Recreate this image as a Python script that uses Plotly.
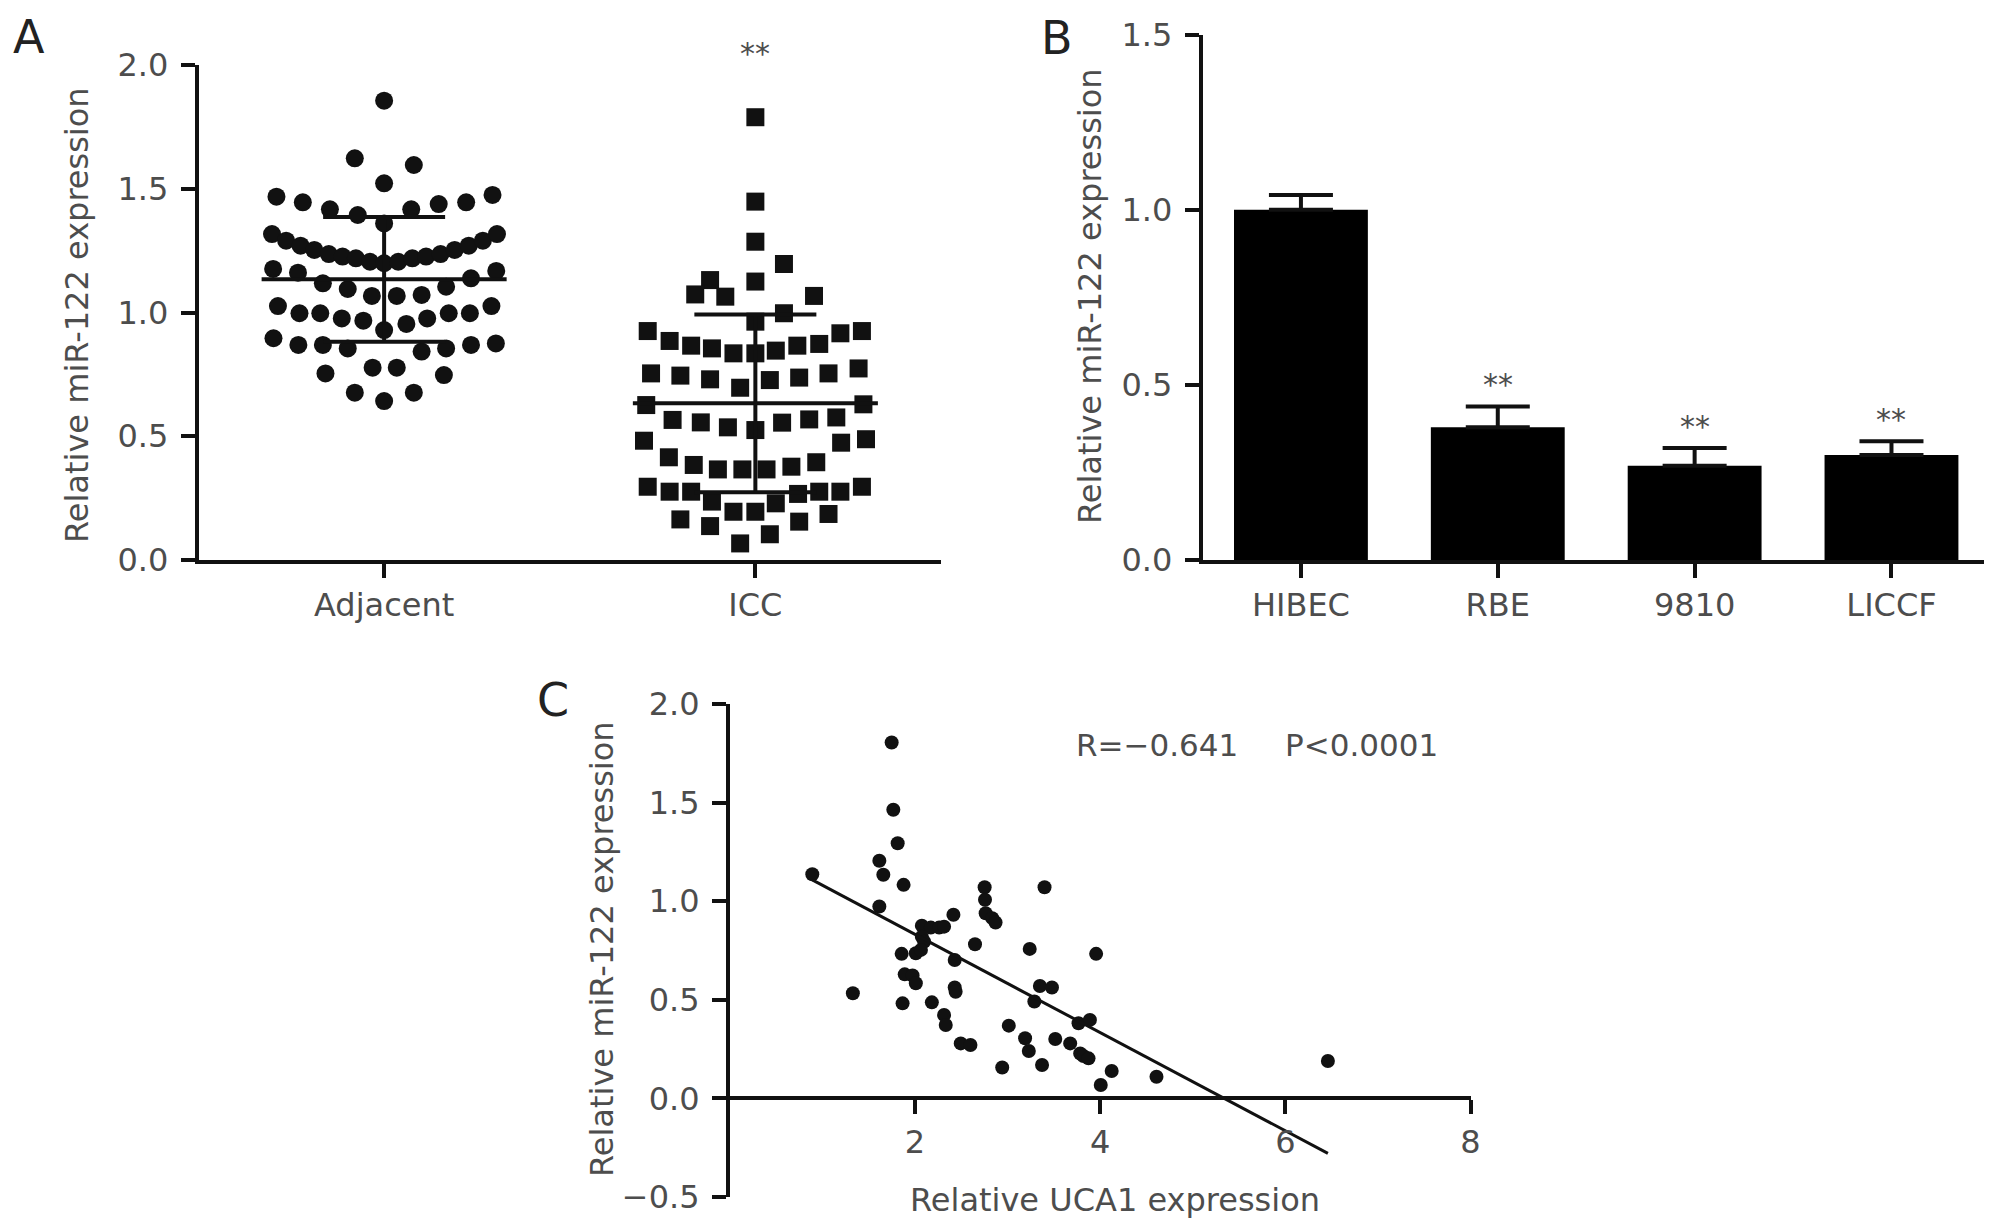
import plotly.graph_objects as go

FONT = "DejaVu Sans"
INK = "#111111"
GREY = "#4d4d4d"
W, H = 2008, 1232
PAGE_PAD = 8  # default body margin of the html page

# ---- Panel A: relative miR-122 in tissue (offset = spread inside the column)
group_labels = ["Adjacent", "ICC"]
adj_offset = [0, -0.079, 0.080, 0,
              -0.290, -0.219, -0.146, -0.071, 0, 0.073, 0.147, 0.221, 0.292,
              -0.302, -0.264, -0.225, -0.188, -0.149, -0.112, -0.076, -0.038, 0,
              0.038, 0.076, 0.113, 0.152, 0.190, 0.228, 0.266, 0.304,
              -0.299, -0.232, -0.165, -0.098, -0.033, 0.034, 0.101, 0.167, 0.234, 0.302,
              -0.286, -0.228, -0.172, -0.114, -0.056, 0, 0.060, 0.116, 0.174, 0.231, 0.289,
              -0.298, -0.231, -0.165, -0.098, 0.101, 0.167, 0.234, 0.301,
              -0.158, -0.031, 0.034, 0.161,
              -0.079, 0, 0.080]
adj_value = [1.856, 1.623, 1.596, 1.522,
             1.468, 1.445, 1.417, 1.394, 1.360, 1.417, 1.438, 1.445, 1.475,
             1.317, 1.290, 1.270, 1.253, 1.236, 1.226, 1.219, 1.205, 1.199,
             1.205, 1.219, 1.226, 1.236, 1.253, 1.270, 1.290, 1.317,
             1.176, 1.161, 1.118, 1.095, 1.067, 1.067, 1.071, 1.104, 1.138, 1.168,
             1.026, 0.997, 0.997, 0.976, 0.967, 0.929, 0.954, 0.976, 0.997, 0.997, 1.026,
             0.896, 0.869, 0.869, 0.855, 0.842, 0.855, 0.869, 0.875,
             0.754, 0.777, 0.777, 0.747,
             0.676, 0.642, 0.676]
icc_offset = [0, 0, 0, 0.077, -0.122, 0, -0.162, -0.081, 0.158, 0.077, 0,
              -0.290, -0.231, -0.173, -0.117, -0.059, 0, 0.055, 0.113, 0.172, 0.229, 0.287,
              -0.281, -0.202, -0.122, -0.041, 0.039, 0.118, 0.197, 0.278,
              -0.294, 0.291,
              -0.223, -0.147, -0.074, 0, 0.072, 0.145, 0.218,
              -0.300, 0.231, 0.298,
              -0.233, -0.166, -0.101, -0.035, 0.030, 0.097, 0.164,
              -0.290, -0.231, -0.173, -0.117, -0.059, 0, 0.055, 0.115, 0.172, 0.229, 0.287,
              -0.202, -0.122, 0.118, 0.197,
              -0.041, 0.039]
icc_value = [1.789, 1.448, 1.286, 1.196, 1.131, 1.125, 1.073, 1.064, 1.067, 0.997, 0.963,
             0.925, 0.885, 0.866, 0.855, 0.835, 0.835, 0.846, 0.866, 0.873, 0.916, 0.925,
             0.754, 0.745, 0.730, 0.696, 0.727, 0.737, 0.754, 0.774,
             0.626, 0.629,
             0.566, 0.556, 0.536, 0.525, 0.555, 0.568, 0.576,
             0.482, 0.474, 0.488,
             0.415, 0.384, 0.366, 0.366, 0.366, 0.377, 0.395,
             0.296, 0.276, 0.276, 0.236, 0.195, 0.195, 0.229, 0.267, 0.276, 0.276, 0.296,
             0.164, 0.137, 0.155, 0.186,
             0.067, 0.104]
group_mean = [1.134, 0.633]
group_sd = [0.252, 0.359]
group_sig = ["", "**"]
sig_y_a = 2.045

# ---- Panel B: cell lines
cell_lines = ["HIBEC", "RBE", "9810", "LICCF"]
cell_mean = [1.00, 0.379, 0.269, 0.300]
cell_err = [0.042, 0.059, 0.051, 0.039]
cell_sig = ["", "**", "**", "**"]

# ---- Panel C: correlation
uca1 = [1.749, 1.767, 1.814, 1.616, 1.659, 1.878, 0.892, 1.616, 2.753, 2.757,
        2.764, 2.835, 2.871, 3.40, 2.416, 2.075, 2.172, 2.262, 2.315, 2.075,
        2.10, 1.857, 2.01, 2.065, 2.649, 3.24, 3.957, 2.43, 1.89, 1.975,
        2.01, 1.33, 2.43, 2.44, 3.35, 3.48, 1.867, 2.183, 3.29, 2.315,
        2.333, 3.767, 3.89, 3.014, 2.495, 2.60, 3.19, 3.23, 3.516, 3.677,
        3.785, 3.82, 3.875, 2.943, 3.373, 4.125, 4.007, 4.609, 6.46]
mir122 = [1.805, 1.464, 1.294, 1.205, 1.134, 1.083, 1.137, 0.973, 1.071, 1.007,
          0.939, 0.914, 0.892, 1.071, 0.931, 0.876, 0.866, 0.866, 0.871, 0.820,
          0.795, 0.733, 0.736, 0.753, 0.782, 0.758, 0.733, 0.702, 0.629, 0.623,
          0.584, 0.533, 0.563, 0.541, 0.570, 0.562, 0.482, 0.487, 0.491, 0.423,
          0.372, 0.381, 0.398, 0.369, 0.279, 0.271, 0.305, 0.240, 0.301, 0.279,
          0.228, 0.215, 0.203, 0.157, 0.169, 0.139, 0.068, 0.110, 0.19]
fit_slope = -0.249
fit_intercept = 1.33
stat_r = "R=\u22120.641"
stat_p = "P<0.0001"


def px_x(v):
    return (v - PAGE_PAD) / W


def px_y(v):
    return 1 - (v - PAGE_PAD) / H


dom_a = ([px_x(198.5), px_x(941)], [px_y(560), px_y(65)])
dom_b = ([px_x(1202.5), px_x(1984)], [px_y(560), px_y(34.6)])
dom_c = ([px_x(729.7), px_x(1470.5)], [px_y(1197), px_y(704)])
range_a_y = [0, 2.0]
range_c_y = [-0.5, 2.0]
# free x axis of panel C sits on y = 0
pos_c = dom_c[1][0] + (0 - range_c_y[0]) / (range_c_y[1] - range_c_y[0]) * (dom_c[1][1] - dom_c[1][0])

fig = go.Figure()

# panel A points
fig.add_trace(go.Scatter(
    x=[0 + o for o in adj_offset], y=adj_value, mode="markers",
    marker=dict(symbol="circle", size=18, color=INK), cliponaxis=False,
    xaxis="x", yaxis="y", showlegend=False))
fig.add_trace(go.Scatter(
    x=[1 + o for o in icc_offset], y=icc_value, mode="markers",
    marker=dict(symbol="square", size=18, color=INK), cliponaxis=False,
    xaxis="x", yaxis="y", showlegend=False))

# mean lines and SD bars
MEAN_HALF = 0.33
for g, m in enumerate(group_mean):
    fig.add_trace(go.Scatter(
        x=[g - MEAN_HALF, g + MEAN_HALF], y=[m, m], mode="lines",
        line=dict(color=INK, width=4), xaxis="x", yaxis="y", showlegend=False))
fig.add_trace(go.Scatter(
    x=list(range(len(group_mean))), y=group_mean, mode="markers",
    marker=dict(size=2, color="rgba(0,0,0,0)"),
    error_y=dict(type="data", array=group_sd, color=INK, thickness=4, width=61),
    xaxis="x", yaxis="y", showlegend=False))

# panel B bars
fig.add_trace(go.Bar(
    x=cell_lines, y=cell_mean, width=0.68,
    marker=dict(color="#000000", line=dict(width=0)),
    error_y=dict(type="data", symmetric=False, array=cell_err,
                 arrayminus=[0] * len(cell_err), color=INK, thickness=4, width=32),
    xaxis="x2", yaxis="y2", showlegend=False))

# panel C scatter + fit line
fig.add_trace(go.Scatter(
    x=uca1, y=mir122, mode="markers",
    marker=dict(symbol="circle", size=14, color=INK), cliponaxis=False,
    xaxis="x3", yaxis="y3", showlegend=False))
x_lo, x_hi = min(uca1), max(uca1)
fig.add_trace(go.Scatter(
    x=[x_lo, x_hi], y=[fit_intercept + fit_slope * x_lo, fit_intercept + fit_slope * x_hi],
    mode="lines", line=dict(color=INK, width=3), cliponaxis=False,
    xaxis="x3", yaxis="y3", showlegend=False))

axis_style = dict(
    showline=True, linecolor=INK, linewidth=3.5, ticks="outside", ticklen=14,
    tickwidth=3.5, tickcolor=INK, showgrid=False, zeroline=False, automargin=False,
    tickfont=dict(family=FONT, size=32, color=GREY),
)
y_style = dict(axis_style, ticklabelstandoff=6)

fig.update_layout(
    width=W, height=H, margin=dict(l=0, r=0, t=0, b=0, autoexpand=False),
    paper_bgcolor="white", plot_bgcolor="white",
    font=dict(family=FONT, color=GREY),
    xaxis=dict(domain=dom_a[0], anchor="y", range=[-0.5, 1.5],
               tickvals=[0, 1], ticktext=group_labels, **axis_style),
    yaxis=dict(domain=dom_a[1], anchor="x", range=range_a_y, dtick=0.5,
               tickformat=".1f", **y_style),
    xaxis2=dict(domain=dom_b[0], anchor="y2", range=[-0.5, 3.47],
                type="category", **axis_style),
    yaxis2=dict(domain=dom_b[1], anchor="x2", range=[0, 1.5], dtick=0.5,
                tickformat=".1f", **y_style),
    xaxis3=dict(domain=dom_c[0], anchor="free", position=pos_c, range=[0, 8],
                tickvals=[2, 4, 6, 8], **axis_style),
    yaxis3=dict(domain=dom_c[1], anchor="x3", range=range_c_y, dtick=0.5,
                tickformat=".1f", **y_style),
)

title_font = dict(family=FONT, size=32, color=GREY)
stat_font = dict(family=FONT, size=31, color=GREY)
letter_font = dict(family=FONT, size=46, color="#222222")
star_font = dict(family=FONT, size=30, color=GREY)
ann = []
# panel letters
for txt, x, y in [("A", 29, 37), ("B", 1057, 38), ("C", 553, 700)]:
    ann.append(dict(text=txt, x=px_x(x), y=px_y(y), xref="paper", yref="paper",
                    xanchor="center", yanchor="middle", showarrow=False, font=letter_font))
# y axis titles
for x, y in [(77, 315), (1090, 296), (602, 949)]:
    ann.append(dict(text="Relative miR-122 expression", x=px_x(x), y=px_y(y),
                    xref="paper", yref="paper", xanchor="center", yanchor="middle",
                    textangle=-90, showarrow=False, font=title_font))
ann.append(dict(text="Relative UCA1 expression", x=4.16, y=px_y(1200), xref="x3",
                yref="paper", xanchor="center", yanchor="middle", showarrow=False,
                font=title_font))
# significance marks (panel A mark sits above the axis top, so place it in domain units)
for g, s in enumerate(group_sig):
    if s:
        ann.append(dict(text=s, x=g, y=sig_y_a / range_a_y[1], xref="x", yref="y domain",
                        xanchor="center", yanchor="middle", showarrow=False, font=star_font))
for i, s in enumerate(cell_sig):
    if s:
        ann.append(dict(text=s, x=i, y=cell_mean[i] + cell_err[i] + 0.062,
                        xref="x2", yref="y2", xanchor="center", yanchor="middle",
                        showarrow=False, font=star_font))
# correlation stats
ann.append(dict(text=stat_r, x=3.72, y=1.79, xref="x3", yref="y3", xanchor="left",
                yanchor="middle", showarrow=False, font=stat_font))
ann.append(dict(text=stat_p, x=5.98, y=1.79, xref="x3", yref="y3", xanchor="left",
                yanchor="middle", showarrow=False, font=stat_font))
fig.update_layout(annotations=ann)

fig.write_html("out.html", config={"displayModeBar": False})
